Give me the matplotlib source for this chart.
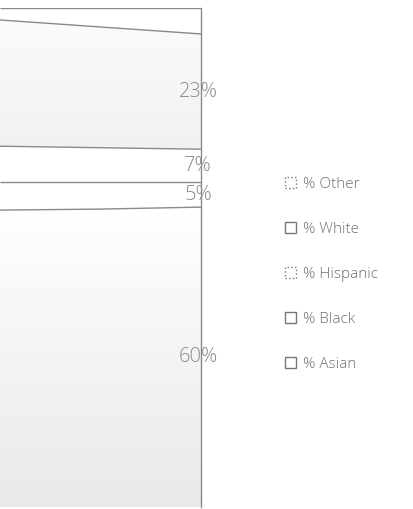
import numpy as np
import matplotlib
matplotlib.use("Agg")
import matplotlib.pyplot as plt
from matplotlib.patches import Patch
from matplotlib.colors import LinearSegmentedColormap

# ---- data (bottom to top of the stack) ----
years = [2017, 2018, 2019]
asian = [59.5, 59.7, 60.1]
black = [5.6, 5.4, 5.0]
hispanic = [7.2, 6.9, 6.6]
white = [25.3, 24.2, 23.1]
other = [2.4, 3.8, 5.2]
series_names = ["% Asian", "% Black", "% Hispanic", "% White", "% Other"]
labelled = [True, True, True, True, False]
legend_order = ["% Other", "% White", "% Hispanic", "% Black", "% Asian"]
legend_dotted = {"% Other": True, "% White": False, "% Hispanic": True,
                 "% Black": False, "% Asian": False}

plt.rcParams['font.family'] = ['Open Sans', 'DejaVu Sans']

W, H = 413, 509
fig = plt.figure(figsize=(W / 100, H / 100), dpi=100)
top_px, bot_px, right_px = 8, 507, 201
ax = fig.add_axes([0, 1 - bot_px / H, right_px / W, (bot_px - top_px) / H])
ax.set_xlim(years[0], years[-1])
ax.set_ylim(0, 100)
ax.axis("off")

data = [asian, black, hispanic, white, other]
gradient_tops = ["#ffffff", "#ffffff", "#ffffff", "#fbfbfb", "#ffffff"]
gradient_bottoms = ["#e9e9e9", "#ffffff", "#ffffff", "#f1f1f1", "#ffffff"]

x = np.array(years, dtype=float)
base = np.zeros(len(years))
line_col = "#8a8a8a"
for i, vals in enumerate(data):
    v = np.array(vals, dtype=float)
    top = base + v
    poly = ax.fill_between(x, base, top, facecolor="none", edgecolor="none")
    ymin, ymax = base.min(), top.max()
    cmap = LinearSegmentedColormap.from_list("g", [gradient_bottoms[i], gradient_tops[i]])
    grad = np.linspace(0, 1, 256).reshape(-1, 1)
    im = ax.imshow(grad, cmap=cmap, aspect="auto", origin="lower",
                   extent=[x[0], x[-1], ymin, ymax], interpolation="bicubic")
    path = poly.get_paths()[0]
    im.set_clip_path(path, transform=ax.transData)
    ax.plot(x, top, color=line_col, lw=1.0, solid_capstyle="butt")
    if labelled[i]:
        ax.annotate(f"{v[-1]:.0f}%", xy=(x[-1], base[-1] + v[-1] / 2),
                    xytext=(-2, 0), textcoords="offset points",
                    ha="center", va="center", fontsize=14.5, color="#8a8a8a",
                    fontweight="light", annotation_clip=False)
    base = top

ax.axvline(x[-1], color=line_col, lw=1.0, clip_on=False)
ax.set_xlim(years[0], years[-1])
ax.set_ylim(0, 100)

handles = []
for name in legend_order:
    handles.append(Patch(facecolor="white", edgecolor="#777777",
                         linestyle=":" if legend_dotted[name] else "-",
                         linewidth=1.0, label=name))
leg = fig.legend(handles=handles, loc="upper left",
                 bbox_to_anchor=(285 / W, 1 - 177 / H), frameon=False,
                 fontsize=11, labelcolor="#6f6f6f", handlelength=0.7,
                 handleheight=0.7, handletextpad=0.5, labelspacing=1.96,
                 borderpad=0, borderaxespad=0)
for t in leg.get_texts():
    t.set_fontweight("light")

fig.savefig("out.png", dpi=100)
